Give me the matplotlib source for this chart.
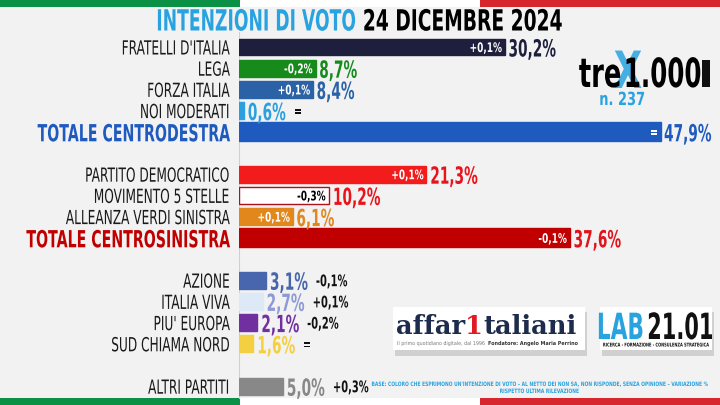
import matplotlib
matplotlib.use('Agg')
import matplotlib.pyplot as plt
from matplotlib.patches import Rectangle
from matplotlib.patheffects import AbstractPathEffect
from matplotlib.transforms import Affine2D, Bbox

# dati del sondaggio
parties = ["FRATELLI D'ITALIA", 'LEGA', 'FORZA ITALIA', 'NOI MODERATI', 'TOTALE CENTRODESTRA',
           'PARTITO DEMOCRATICO', 'MOVIMENTO 5 STELLE', 'ALLEANZA VERDI SINISTRA', 'TOTALE CENTROSINISTRA',
           'AZIONE', 'ITALIA VIVA', "PIU' EUROPA", 'SUD CHIAMA NORD',
           'ALTRI PARTITI']
values = [30.2, 8.7, 8.4, 0.6, 47.9,
          21.3, 10.2, 6.1, 37.6,
          3.1, 2.7, 2.1, 1.6,
          5.0]
changes = ['+0,1%', '-0,2%', '+0,1%', '=', '=',
           '+0,1%', '-0,3%', '+0,1%', '-0,1%',
           '-0,1%', '+0,1%', '-0,2%', '=',
           '+0,3%']
group_sizes = [5, 4, 4, 1]

bar_colors = ['#1e1f3d', '#178a1c', '#2b62a6', '#2aa0de', '#1f5bbf',
              '#f21c1c', '#ffffff', '#e2871c', '#c00000',
              '#4766ad', '#dde9f7', '#7030a0', '#f4cf3f',
              '#888888']
label_colors = ['#1e1f3d', '#178a1c', '#2b62a6', '#2aa0de', '#1f5bbf',
                '#e8141b', '#e8141b', '#e2871c', '#e0141b',
                '#4766ad', '#8e9ad6', '#7030a0', '#f4cf3f',
                '#888888']

bg = '#f2f2f2'
sky = '#29a3e0'


class Squeeze(AbstractPathEffect):
    # stringe orizzontalmente i glifi (niente font condensati installati)
    def __init__(self, sx, anchor='left'):
        super().__init__()
        self.sx = sx
        self.anchor = anchor

    def draw_path(self, renderer, gc, tpath, affine, rgbFace=None):
        ext = tpath.get_extents()
        x0 = {'left': ext.x0, 'center': 0.5 * (ext.x0 + ext.x1), 'right': ext.x1}[self.anchor]
        aff = Affine2D().translate(-x0, 0).scale(self.sx, 1).translate(x0, 0) + affine
        renderer.draw_path(gc, tpath, aff, rgbFace)


def ctext(axes, x, y, s, sx, **kw):
    # testo vero, disegnato stretto; anche il riquadro viene ristretto
    anchor = kw.get('ha', 'left')
    t = axes.text(x, y, s, path_effects=[Squeeze(sx, anchor)], **kw)
    full = t.get_window_extent

    def extent(renderer=None, dpi=None):
        bb = full(renderer, dpi)
        w = bb.width * sx
        if anchor == 'right':
            x0 = bb.x1 - w
        elif anchor == 'center':
            x0 = 0.5 * (bb.x0 + bb.x1) - 0.5 * w
        else:
            x0 = bb.x0
        return Bbox.from_bounds(x0, bb.y0, w, bb.height)

    t.get_window_extent = extent
    return t


plt.rcParams['font.family'] = 'DejaVu Sans'
fig = plt.figure(figsize=(7.2, 4.05), dpi=100, facecolor=bg)

# fondo, bandiere e loghi in coordinate pixel
cv = fig.add_axes([0, 0, 1, 1])
cv.set_xlim(0, 720)
cv.set_ylim(405, 0)
cv.axis('off')
for y0 in (0, 398):
    cv.add_patch(Rectangle((0, y0), 240, 7, color='#0b9146', lw=0))
    cv.add_patch(Rectangle((240, y0), 240, 7, color='#ffffff', lw=0))
    cv.add_patch(Rectangle((480, y0), 240, 7, color='#d7262d', lw=0))

ctext(cv, 356, 30.5, 'INTENZIONI DI VOTO', 0.59, ha='right', va='baseline', fontsize=21,
      weight='heavy', color=sky)
ctext(cv, 362, 30.5, '24 DICEMBRE 2024', 0.64, ha='left', va='baseline', fontsize=21,
      weight='heavy', color='black')

# logo tre x 1.000
ctext(cv, 628, 74, 'X', 0.72, ha='center', va='center', fontsize=37, weight='bold',
      color=sky, alpha=0.85)
ctext(cv, 622, 87, 'tre', 0.64, ha='right', va='baseline', fontsize=29, weight='bold',
      color='black')
ctext(cv, 622, 87, '1.000', 0.61, ha='left', va='baseline', fontsize=29, weight='bold',
      color='black')
cv.add_patch(Rectangle((702, 60), 8, 27, color='#111111', lw=0))
ctext(cv, 622, 105, 'n. 237', 0.72, ha='center', va='baseline', fontsize=13, weight='bold',
      color=sky)

# loghi affaritaliani e LAB21.01
for x0, w in ((393, 192), (600, 112)):
    cv.add_patch(Rectangle((x0 + 2, 312), w, 44, color='#b5b5b5', lw=0, alpha=0.55))
    cv.add_patch(Rectangle((x0, 307), w, 43, color='white', lw=0))
t = cv.text(396, 334, 'affar', ha='left', va='baseline', fontsize=18.5, weight='bold',
            color='#1d2b4c', family='DejaVu Serif')
t = cv.annotate('1', xy=(1, 0), xycoords=t, ha='left', va='bottom', fontsize=18.5,
                weight='bold', color='#e01b22', family='DejaVu Serif')
cv.annotate('taliani', xy=(1, 0), xycoords=t, ha='left', va='bottom', fontsize=18.5,
            weight='bold', color='#1d2b4c', family='DejaVu Serif')
ctext(cv, 397, 345, 'Il primo quotidiano digitale, dal 1996', 0.9, ha='left', va='baseline',
      fontsize=3.8, color='#777777')
ctext(cv, 488, 345, 'Fondatore: Angelo Maria Perrino', 0.9, ha='left', va='baseline',
      fontsize=3.9, weight='bold', color='#333333')
ctext(cv, 645, 339, 'LAB', 0.6, ha='right', va='baseline', fontsize=26, weight='bold',
      color=sky)
ctext(cv, 646, 339, '21.01', 0.58, ha='left', va='baseline', fontsize=26, weight='bold',
      color='#111111')
ctext(cv, 656, 346.5, 'RICERCA - FORMAZIONE - CONSULENZA STRATEGICA', 0.7, ha='center',
      va='baseline', fontsize=3.7, weight='bold', color='#111111')

ctext(cv, 539, 384.5, "BASE: COLORO CHE ESPRIMONO UN'INTENZIONE DI VOTO \u2013 AL NETTO DEI NON SA, "
      "NON RISPONDE, SENZA OPINIONE \u2013 VARIAZIONE %", 0.75, ha='center', va='center',
      fontsize=4.3, weight='bold', color=sky)
ctext(cv, 539, 391.5, 'RISPETTO ULTIMA RILEVAZIONE', 0.75, ha='center', va='center',
      fontsize=4.3, weight='bold', color=sky)

# grafico a barre
ax = fig.add_axes([239 / 720, 0, 481 / 720, 1])
ax.patch.set_alpha(0)
ax.set_xlim(0, 481 / 8.8)
ax.set_ylim((405 - 47) / 21.2, -47 / 21.2)
ax.axis('off')
ax.axvline(0, ymin=7 / 405, ymax=1 - 32 / 405, color='#cfcfcf', lw=0.8, zorder=0)

slots = []
s = 0
for g in group_sizes:
    slots += list(range(s, s + g))
    s += g + 1

is_total = [p.startswith('TOTALE') for p in parties]
heights = [0.88 if tot else 0.8 for tot in is_total]
edges = ['#b0101c' if c == '#ffffff' else c for c in bar_colors]
ax.barh(slots, values, height=heights, color=bar_colors, edgecolor=edges, linewidth=1.0)

for i, (p, v, ch, y) in enumerate(zip(parties, values, changes, slots)):
    if is_total[i]:
        ctext(ax, -1.0, y, p, 0.6, ha='right', va='center_baseline', fontsize=17,
              weight='heavy', color=bar_colors[i])
    else:
        ctext(ax, -1.0, y, p, 0.625, ha='right', va='center_baseline', fontsize=14,
              color='#1a1a1a')
    ctext(ax, v + 0.35, y, f'{v:.1f}'.replace('.', ',') + '%', 0.58, ha='left',
          va='center_baseline', fontsize=17, weight='bold', color=label_colors[i])
    if v > 5.5:
        ctext(ax, v - 0.3, y, ch, 0.68, ha='right', va='center_baseline', fontsize=9.5,
              weight='bold', color='black' if bar_colors[i] == '#ffffff' else 'white')
    else:
        ctext(ax, v + 5.6, y, ch, 0.62, ha='left', va='center_baseline', fontsize=11.5,
              weight='bold', color='#111111')

fig.savefig('out.png', dpi=100, facecolor=bg)
